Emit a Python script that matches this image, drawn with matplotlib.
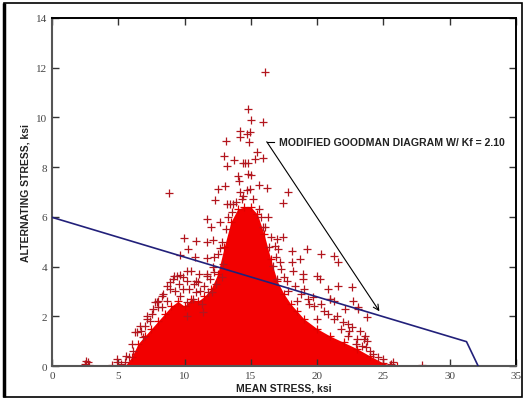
import matplotlib
matplotlib.use('Agg')
import matplotlib.pyplot as plt
from matplotlib.patches import Rectangle

# dense core of the scatter: upper edge of the solid red area (mean, alt)
core_mean = [5.5, 6.0, 6.5, 7.0, 7.5, 8.0, 8.5, 9.0, 9.5, 10.0, 10.5, 11.0, 11.5, 12.0,
             12.5, 13.0, 13.5, 14.0, 14.5, 15.0, 15.5, 16.0, 16.5, 17.0, 17.5, 18.0,
             18.5, 19.0, 20.0, 21.0, 22.0, 23.0, 24.0, 25.0, 25.5, 26.0]
core_alt = [0.0, 0.35, 0.9, 1.2, 1.5, 1.8, 2.1, 2.4, 2.6, 2.4, 2.7, 2.6, 2.8, 3.1,
            3.7, 4.8, 5.8, 6.3, 6.4, 6.4, 6.1, 5.3, 4.3, 3.4, 2.9, 2.5,
            2.2, 1.9, 1.5, 1.2, 0.95, 0.7, 0.4, 0.12, 0.04, 0.0]

# scattered crosses outside the core
pts_mean = [16.1, 14.75, 15.05, 15.9, 14.2, 14.9, 14.7, 14.2, 14.85, 13.1, 12.97, 13.7, 13.2,
            14.4, 14.8, 14.55, 15.5, 15.9, 15.3, 14.05, 14.1, 15.0, 14.8, 15.6, 16.25, 12.55,
            13.05, 14.2, 14.7, 14.9, 8.85, 17.8, 17.45, 12.3, 13.65, 14.4, 13.2, 13.4,
            11.67, 12.0, 12.67, 9.95, 10.9, 11.7, 12.16, 10.25, 12.67, 9.65, 10.78, 11.67, 12.2,
            10.16, 10.5, 9.2, 9.65, 11.67, 12.16, 9.4, 8.9, 10.9, 10.16, 11.0, 11.67, 12.04,
            10.9, 9.65, 8.65, 9.15, 8.9, 8.0, 8.0, 7.9, 8.27, 7.52, 7.14, 7.39, 6.64, 7.0,
            6.39, 6.26, 6.9, 10.16, 11.4, 10.16, 11.16, 11.8, 7.77, 8.3, 9.9, 10.6, 11.3,
            12.4, 12.8, 12.9,
            16.8, 16.7, 16.95, 15.9, 16.95, 17.44, 18.1, 19.25, 20.3, 21.3, 21.6, 18.7, 18.1,
            18.2, 18.95, 19.96, 20.2, 21.6, 22.6, 17.07, 18.95, 19.7, 20.97, 22.7, 21.3, 22.1,
            23.1, 23.1, 23.73, 21.97, 22.35, 22.6, 23.2, 23.6, 23.73, 23.5, 23.7, 24.98, 25.7,
            25.6, 27.9, 20.8, 21.0, 19.0, 19.4, 20.5, 21.5, 20.0, 18.5, 17.8, 17.5, 16.3,
            16.5, 17.2, 24.2, 24.6, 22.9, 22.3,
            2.5, 2.6, 2.7, 2.8, 4.5, 4.88, 4.88, 5.2, 5.5, 5.8, 6.1,
            8.4, 8.7, 9.3, 9.6, 9.9, 10.3, 10.7, 11.1, 11.5, 11.9, 12.2, 12.5, 12.8, 13.1,
            13.3, 13.6, 13.9, 14.3, 15.2, 15.6, 15.8, 16.1, 16.4, 16.9, 17.3, 17.7, 18.3,
            18.8, 19.3, 19.8, 20.3, 20.8, 21.3, 21.8, 22.4, 23.0, 23.4, 24.0, 7.2, 7.6,
            6.7, 6.0, 5.6]
pts_alt = [11.84, 10.32, 9.88, 9.8, 9.47, 9.42, 9.33, 9.2, 9.02, 9.06, 8.46, 8.29, 8.03,
           8.17, 8.17, 8.17, 8.62, 8.35, 8.33, 7.65, 7.45, 7.68, 7.72, 7.28, 7.15, 7.1,
           7.23, 7.01, 7.09, 7.12, 6.96, 6.98, 6.55, 6.68, 6.5, 6.85, 6.52, 6.5,
           5.91, 5.58, 5.78, 5.16, 5.03, 4.98, 5.08, 4.72, 4.73, 4.45, 4.37, 4.33, 4.4,
           3.83, 3.83, 3.63, 3.66, 3.7, 3.97, 3.63, 3.37, 3.43, 3.43, 3.37, 3.63, 2.96,
           2.96, 2.83, 3.23, 3.5, 3.1, 2.63, 2.36, 2.56, 2.36, 2.09, 2.02, 1.82, 1.62, 1.62,
           1.36, 1.36, 1.15, 2.56, 2.16, 2.02, 3.03, 2.96, 2.56, 2.8, 3.1, 2.7, 2.5,
           3.3, 3.6, 4.1,
           4.84, 4.03, 3.5, 5.58, 5.1, 5.18, 4.64, 4.71, 4.5, 4.41, 4.17, 4.3, 4.2,
           3.83, 3.7, 3.63, 3.5, 3.23, 3.17, 4.7, 3.5, 2.76, 2.7, 2.63, 2.63, 2.29,
           2.29, 2.36, 1.96, 1.76, 1.69, 1.55, 1.42, 1.22, 1.02, 1.09, 0.75, 0.28, 0.15,
           0.08, 0.05, 3.1, 2.7, 3.1, 2.5, 2.2, 2.0, 1.9, 2.6, 3.0, 3.6, 6.0,
           5.2, 4.2, 0.5, 0.35, 0.9, 1.2,
           0.1, 0.21, 0.15, 0.05, 0.05, 0.28, 0.15, 0.1, 0.15, 0.35, 0.6,
           2.9, 2.6, 3.0, 3.3, 3.6, 3.1, 3.3, 3.7, 3.2, 3.5, 3.8, 4.5, 5.0, 5.5,
           6.0, 6.2, 6.6, 6.7, 6.7, 6.3, 6.0, 5.6, 4.8, 4.4, 3.9, 3.4, 3.2,
           2.9, 2.7, 2.4, 2.5, 2.1, 1.9, 1.5, 1.4, 1.1, 0.8, 0.6, 1.9, 2.3,
           1.4, 0.9, 0.4]

# modified goodman line
goodman_mean = [0.0, 31.27, 32.15]
goodman_alt = [5.98, 0.98, 0.0]

x_ticks = [0, 5, 10, 15, 20, 25, 30, 35]
y_ticks = [0, 2, 4, 6, 8, 10, 12, 14]

fig = plt.figure(figsize=(5.27, 4.02), dpi=100)
ax = fig.add_axes([0.0987, 0.087, 0.8803, 0.866])

ax.fill_between(core_mean, 0, core_alt, color='#f20000', lw=0, zorder=1)
ax.plot(core_mean, core_alt, ls='none', marker='+', ms=6, mew=0.9, color='#e00000', zorder=2)
ax.plot(pts_mean, pts_alt, ls='none', marker='+', ms=6, mew=0.9, color='#b3161e', zorder=2)
ax.plot(goodman_mean, goodman_alt, color='#22207a', lw=1.2, zorder=3)

# callout
ax.plot([16.2, 16.75], [9.02, 9.02], color='black', lw=0.8)
ax.annotate('', xy=(24.7, 2.2), xytext=(16.2, 9.02),
            arrowprops=dict(arrowstyle='->', color='black', lw=0.8, shrinkA=0, shrinkB=0))
ax.text(17.1, 9.02, 'MODIFIED GOODMAN DIAGRAM W/ Kf = 2.10', fontsize=7.6, fontweight='bold',
        family='Liberation Sans', color='#222222', va='center', ha='left')

ax.set_xlim(0, 35)
ax.set_ylim(0, 14)
ax.set_xticks(x_ticks)
ax.set_yticks(y_ticks)
ax.tick_params(direction='in', top=True, right=True, length=5, width=1, color='#333333',
               labelsize=8, labelcolor='#444444')
for lab in ax.get_xticklabels() + ax.get_yticklabels():
    lab.set_family('Liberation Serif')

for s in ['left', 'bottom']:
    ax.spines[s].set_color('#555555')
    ax.spines[s].set_linewidth(1.5)
for s in ['top', 'right']:
    ax.spines[s].set_color('black')
    ax.spines[s].set_linewidth(1.4)

ax.set_xlabel('MEAN STRESS, ksi', fontsize=7.5, fontweight='bold', family='Liberation Sans',
              color='#222222', labelpad=2)
ax.set_ylabel('ALTERNATING STRESS, ksi', fontsize=7.5, fontweight='bold', family='Liberation Sans',
              color='#222222', labelpad=4)

# border round the whole picture
fig.patches.append(Rectangle((4 / 527, 4 / 402), 518 / 527, 394 / 402, transform=fig.transFigure,
                             fill=False, ec='black', lw=1.2))
fig.patches.append(Rectangle((3.5 / 527, 4 / 402), 0, 394 / 402, transform=fig.transFigure,
                             fill=False, ec='black', lw=2.5))

fig.savefig('out.png', dpi=100)
